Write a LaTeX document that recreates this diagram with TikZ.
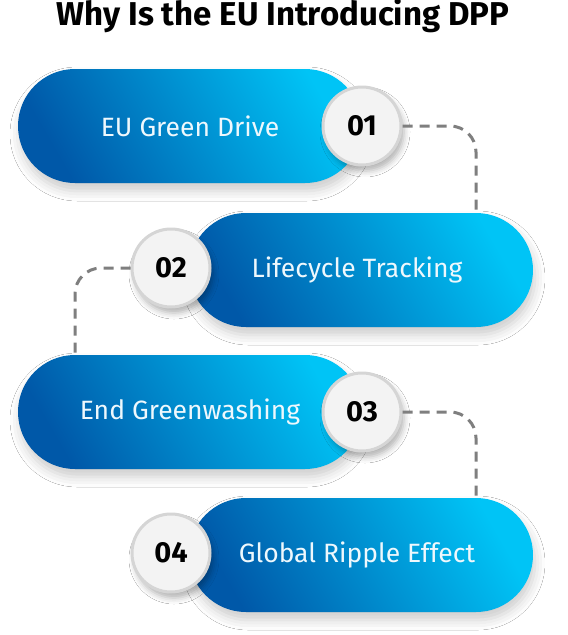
\documentclass[tikz,border=0pt]{standalone}
\usepackage{fontspec}
\setmainfont{Fira Sans}
\usetikzlibrary{shapes.misc, shadows.blur}

\definecolor{pilldark}{HTML}{0058A8}
\definecolor{pilllight}{HTML}{00C4F6}
\definecolor{pilltext}{HTML}{EEF8FD}
\definecolor{badgefill}{HTML}{F3F3F3}
\definecolor{badgering}{HTML}{D5D5D5}
\definecolor{linkgray}{HTML}{7F7F7F}

\begin{document}
\begin{tikzpicture}[x=1pt, y=-1pt,
		% Styles
		pill/.style={rounded rectangle, minimum width=344, minimum height=114, inner sep=0pt,
			left color=pilldark, right color=pilllight, shading angle=120,
			text=pilltext, font=\fontsize{26.5}{30}\selectfont,
			blur shadow={shadow xshift=2pt, shadow yshift=-8pt, shadow blur radius=10pt, shadow opacity=20}},
		badge/.style={circle, minimum size=78, inner sep=0pt, fill=badgefill, draw=badgering, line width=3pt,
			font=\bfseries\fontsize{29}{33}\selectfont,
			blur shadow={shadow xshift=3pt, shadow yshift=-6pt, shadow blur radius=6pt, shadow opacity=30}},
		link/.style={draw=linkgray, line width=3pt, dash pattern=on 10pt off 7pt, rounded corners=26pt},
		heading/.style={font=\bfseries\fontsize{33}{38}\selectfont, anchor=base}
		]
		
		% Canvas
		\fill[white] (0,0) rectangle (568,635);
		\useasboundingbox (0,0) rectangle (568,635);
		
		% Title
		\node[heading] (title) at (283,25) {Why Is the EU Introducing DPP};
		
		% Pills
		\node[pill] (p1) at (190,126) {EU Green Drive};
		\node[pill] (p2) at (361,270) {\hspace*{-8pt}Lifecycle Tracking};
		\node[pill] (p3) at (190,412) {End Greenwashing};
		\node[pill] (p4) at (361,555) {\hspace*{-8pt}Global Ripple Effect};
		
		% Number badges
		\node[badge] (c1) at (362,126) {01};
		\node[badge] (c2) at (171,268) {02};
		\node[badge] (c3) at (362,412) {03};
		\node[badge] (c4) at (171,553) {04};
		
		% Dashed links
		\draw[link] (c1.east) -| (p2.north east);
		\draw[link] (c2.west) -| (p3.north west);
		\draw[link] (c3.east) -| (p4.north east);
		
	\end{tikzpicture}
\end{document}
